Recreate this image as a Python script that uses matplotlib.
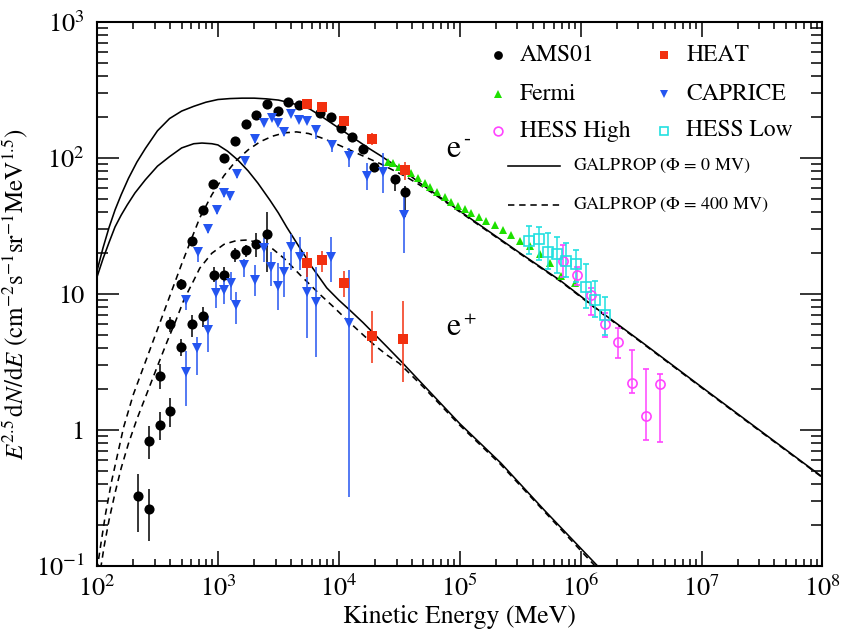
import numpy as np
import matplotlib
matplotlib.use("Agg")
import matplotlib.pyplot as plt

plt.rcParams["font.family"] = ["STIXGeneral", "DejaVu Serif"]
plt.rcParams["mathtext.fontset"] = "stix"

# ---------------- GALPROP model curves (log10 E [MeV], log10 E^2.5 dN/dE) ----------------
elec_phi0_logE = [2.00, 2.05, 2.10, 2.15, 2.20, 2.26, 2.33, 2.40, 2.50, 2.60, 2.70, 2.80, 2.90,
                  3.00, 3.10, 3.20, 3.30, 3.40, 3.50, 3.60, 3.70, 3.76, 3.85, 3.95, 4.05, 4.15,
                  4.25, 4.34, 4.45, 4.56, 4.67, 4.80, 5.00, 5.50, 5.83, 6.18, 6.50, 7.00, 7.50, 8.00]
elec_phi0_logF = [1.17, 1.34, 1.49, 1.62, 1.73, 1.85, 1.97, 2.07, 2.20, 2.29, 2.345, 2.38, 2.41,
                  2.43, 2.437, 2.44, 2.44, 2.435, 2.426, 2.405, 2.38, 2.36, 2.31, 2.25, 2.19, 2.13,
                  2.07, 2.02, 1.955, 1.89, 1.816, 1.735, 1.61, 1.30, 1.10, 0.86, 0.65, 0.316, -0.015, -0.346]

elec_phi400_logE = [2.00, 2.03, 2.07, 2.12, 2.17, 2.22, 2.30, 2.40, 2.50, 2.60, 2.70, 2.77, 2.85,
                    2.95, 3.05, 3.15, 3.25, 3.35, 3.45, 3.55, 3.65, 3.75, 3.85, 3.95, 4.05, 4.15,
                    4.25, 4.35, 4.45, 4.55, 4.65, 4.80, 5.00, 5.50, 5.83, 6.18, 6.50, 7.00, 7.50, 8.00]
elec_phi400_logF = [-1.03, -0.85, -0.62, -0.38, -0.18, 0.02, 0.26, 0.50, 0.74, 0.98, 1.22, 1.38, 1.56,
                    1.73, 1.87, 1.98, 2.06, 2.12, 2.16, 2.185, 2.192, 2.18, 2.15, 2.115, 2.075, 2.035,
                    1.995, 1.955, 1.91, 1.865, 1.812, 1.728, 1.604, 1.295, 1.095, 0.855, 0.645, 0.311, -0.02, -0.35]

posi_phi0_logE = [2.00, 2.05, 2.10, 2.149, 2.20, 2.25, 2.314, 2.40, 2.50, 2.60, 2.70, 2.80, 2.868,
                  2.95, 3.00, 3.08, 3.165, 3.25, 3.33, 3.43, 3.50, 3.57, 3.636, 3.70, 3.777, 3.90,
                  4.00, 4.09, 4.20, 4.30, 4.40, 4.504, 4.70, 5.00, 5.34, 5.70, 6.14, 6.20]
posi_phi0_logF = [1.125, 1.26, 1.38, 1.493, 1.58, 1.655, 1.743, 1.84, 1.94, 2.01, 2.074, 2.105, 2.11,
                  2.105, 2.096, 2.05, 1.985, 1.905, 1.816, 1.69, 1.596, 1.49, 1.397, 1.307, 1.199, 1.045,
                  0.955, 0.882, 0.79, 0.70, 0.61, 0.515, 0.33, 0.047, -0.243, -0.59, -1.0, -1.06]

posi_phi400_logE = [2.03, 2.06, 2.10, 2.15, 2.20, 2.26, 2.33, 2.40, 2.50, 2.58, 2.65, 2.72, 2.80,
                    2.85, 2.95, 3.05, 3.15, 3.24, 3.35, 3.455, 3.55, 3.68, 3.84, 3.95, 4.09, 4.20,
                    4.30, 4.40, 4.50, 4.70, 5.00, 5.34, 5.70, 6.13, 6.20]
posi_phi400_logF = [-1.02, -0.85, -0.66, -0.46, -0.28, -0.10, 0.08, 0.24, 0.47, 0.65, 0.80, 0.96, 1.10,
                    1.19, 1.30, 1.365, 1.392, 1.397, 1.375, 1.33, 1.26, 1.14, 1.00, 0.91, 0.79, 0.70,
                    0.62, 0.55, 0.49, 0.315, 0.035, -0.255, -0.60, -1.01, -1.07]

# ---------------- measurements ----------------
# AMS01 electrons
ams_e_E = [607, 746, 914, 1127, 1380, 1694, 2075, 2541, 3112, 3811, 4667, 6966, 8590, 10520,
           12880, 15780, 19360, 29040, 35560]
ams_e_F = [24.5, 41.5, 64.7, 100, 134, 179, 208, 251, 222, 258, 247, 213, 199, 167, 142, 117,
           85.5, 70.5, 56.2]
ams_e_lo = [23.0, 39.5, 61.5, 95, 127, 170, 198, 239, 211, 245, 235, 202, 189, 158, 134, 110,
            79, 57, 37]
ams_e_hi = [26.0, 43.5, 68, 105, 141, 188, 218, 263, 233, 271, 259, 224, 209, 176, 150, 124,
            92, 75, 62]
# AMS01 positrons
ams_p_E = [219, 269, 269, 330, 404, 330, 494, 404, 494, 614, 752, 920, 1127, 1380, 1694, 2075, 2541]
ams_p_F = [0.327, 0.261, 0.834, 1.09, 1.39, 2.49, 4.07, 5.98, 11.8, 5.98, 6.86, 13.9, 13.9,
           19.6, 21.1, 23.5, 27.6]
ams_p_lo = [0.179, 0.153, 0.608, 0.84, 1.06, 1.99, 3.50, 5.28, 10.7, 4.85, 5.75, 12.3, 12.3,
            17.3, 18.6, 18.6, 14.4]
ams_p_hi = [0.476, 0.366, 1.07, 1.36, 1.71, 3.04, 4.65, 6.81, 13.0, 7.0, 8.07, 15.7, 15.7,
            21.7, 22.9, 27.9, 40.3]

# HEAT
heat_e_E = [5470, 7194, 10990, 18840, 35080]
heat_e_F = [249, 238, 186, 137, 81.7]
heat_e_lo = [240, 229, 172, 125, 68.9]
heat_e_hi = [258, 247, 204, 152, 94]
heat_p_E = [5470, 7194, 10990, 18970, 34040]
heat_p_F = [17.0, 17.8, 12.0, 4.93, 4.65]
heat_p_lo = [13.4, 14.6, 9.47, 3.09, 2.24]
heat_p_hi = [20.5, 20.8, 14.8, 7.50, 8.93]

# CAPRICE
cap_e_E = [545, 681, 832, 975, 1127, 1256, 1429, 1671, 2023, 2399, 2780, 3112, 3532, 4009,
           4699, 5408, 6531, 8710, 12100, 17140, 23280, 34440]
cap_e_F = [9.04, 20.4, 30.1, 41.5, 55, 52.8, 75.9, 95.5, 137, 180, 198, 182, 155, 210, 190,
           188, 161, 125, 104, 73.8, 79.3, 38.1]
cap_e_lo = [7.62, 17.3, 28.0, 38.8, 51.5, 49.5, 71.5, 90, 130, 171, 188, 172, 146, 199, 180,
            178, 137, 111, 85.5, 58.2, 55.6, 19.9]
cap_e_hi = [9.84, 21.6, 32.2, 44.2, 58.5, 56.1, 80.3, 101, 144, 189, 208, 192, 164, 221, 200,
            198, 170, 133, 118, 92.3, 109, 55.0]
cap_p_E = [545, 675, 832, 962, 1122, 1274, 1400, 1648, 2009, 2399, 2723, 3148, 3508, 4009,
           4764, 5470, 6531, 8590, 12100]
cap_p_F = [2.69, 3.99, 5.43, 10.1, 10.7, 12.0, 8.3, 16.3, 12.7, 21.7, 15.7, 11.5, 14.4, 22.3,
           18.8, 10.4, 8.78, 18.8, 6.1]
cap_p_lo = [1.50, 2.54, 3.77, 7.85, 8.43, 9.04, 6.01, 13.4, 9.66, 17.3, 11.5, 7.62, 9.55, 15.0,
            15.0, 4.72, 3.46, 12.3, 0.32]
cap_p_hi = [3.83, 4.85, 6.89, 12.7, 14.8, 14.6, 10.4, 18.0, 16.3, 25.6, 20.5, 16.8, 20.5, 27.6,
            26.4, 15.7, 15.7, 26.1, 15.0]

# Fermi
fermi_E = [25590, 28120, 31550, 35080, 39810, 45190, 51400, 57150, 64860, 75160, 85310, 96830,
           109900, 125000, 144200, 166000, 194500, 228000, 267300, 316200, 379300, 458100,
           554600, 691800, 891300]
fermi_F = [94.0, 91.4, 86.3, 81.7, 77.1, 70.8, 65.2, 61.5, 56.5, 52.0, 47.8, 44.4, 41.9, 39.2,
           36.6, 34.6, 32.1, 29.6, 27.2, 24.7, 22.5, 19.7, 17.0, 13.6, 12.0]

# HESS
hess_low_E = [374100, 449800, 537000, 641200, 751600, 920400, 1099000, 1321000, 1585000]
hess_low_F = [24.7, 25.4, 20.5, 19.7, 17.6, 16.5, 11.2, 9.04, 7.01]
hess_low_lo = [19.7, 17.8, 15.2, 14.2, 13.4, 12.3, 7.85, 6.81, 5.0]
hess_low_hi = [31.6, 31.3, 28.2, 26.1, 23.8, 21.1, 16.6, 12.5, 9.47]
hess_high_E = [714500, 933300, 1211000, 1585000, 2046000, 2673000, 3483000, 4519000]
hess_high_F = [17.6, 13.8, 9.84, 5.98, 4.46, 2.23, 1.27, 2.17]
hess_high_lo = [13.4, 11.6, 7.0, 4.80, 3.37, 1.86, 0.843, 0.813]
hess_high_hi = [22.9, 15.9, 11.0, 7.21, 5.6, 3.87, 2.79, 2.58]

# ---------------- styling ----------------
C_RED = "#f2300f"
C_BLUE = "#2455f0"
C_GREEN = "#1ee000"
C_MAG = "#ff44ff"
C_CYAN = "#22e0e0"

fig = plt.figure(figsize=(8.43, 6.35), dpi=100)
ax = fig.add_axes([97 / 843, 1 - 566 / 635, 725.5 / 843, 544 / 635])
ax.set_xscale("log")
ax.set_yscale("log")
ax.set_xlim(1e2, 1e8)
ax.set_ylim(1e-1, 1e3)

lw = 1.15
dash = (0, (4, 3))
ax.plot(10 ** np.array(elec_phi0_logE), 10 ** np.array(elec_phi0_logF), color="black", lw=lw)
ax.plot(10 ** np.array(posi_phi0_logE), 10 ** np.array(posi_phi0_logF), color="black", lw=lw)
ax.plot(10 ** np.array(elec_phi400_logE), 10 ** np.array(elec_phi400_logF), color="black", lw=lw, ls=dash)
ax.plot(10 ** np.array(posi_phi400_logE), 10 ** np.array(posi_phi400_logF), color="black", lw=lw, ls=dash)


def errpts(E, F, lo, hi, color, marker, ms, mfc=None, mew=0.0):
    F = np.asarray(F, float)
    yerr = [F - np.asarray(lo, float), np.asarray(hi, float) - F]
    ax.errorbar(E, F, yerr=yerr, fmt=marker, color=color, ms=ms,
                mfc=color if mfc is None else mfc, mec=color, mew=mew,
                elinewidth=1.1, capsize=2.4, capthick=1.1, zorder=3)


errpts(ams_e_E, ams_e_F, ams_e_lo, ams_e_hi, "black", "o", 7.3)
errpts(ams_p_E, ams_p_F, ams_p_lo, ams_p_hi, "black", "o", 7.3)
errpts(cap_e_E, cap_e_F, cap_e_lo, cap_e_hi, C_BLUE, "v", 7.6)
errpts(cap_p_E, cap_p_F, cap_p_lo, cap_p_hi, C_BLUE, "v", 7.6)
errpts(heat_e_E, heat_e_F, heat_e_lo, heat_e_hi, C_RED, "s", 6.8)
errpts(heat_p_E, heat_p_F, heat_p_lo, heat_p_hi, C_RED, "s", 6.8)
ax.plot(fermi_E, fermi_F, "^", color=C_GREEN, ms=6.0, mew=0, zorder=3)
errpts(hess_high_E, hess_high_F, hess_high_lo, hess_high_hi, C_MAG, "o", 6.6, mfc="none", mew=1.2)
errpts(hess_low_E, hess_low_F, hess_low_lo, hess_low_hi, C_CYAN, "s", 6.6, mfc="none", mew=1.2)

# particle labels: "e" with a small raised hyphen / plus sign
for yb, sign, size in [(102, "-", 15), (5.0, "+", 13)]:
    ax.text(7.8e4, yb, "e", fontsize=23, ha="left", va="baseline")
    ax.annotate(sign, xy=(7.8e4, yb), xytext=(11.5, 8.5), textcoords="offset points",
                fontsize=size, ha="left", va="baseline")

# ---------------- legend ----------------
leg_entries = [
    ("AMS01", "o", "black", True, 0, 0),
    ("HEAT", "s", C_RED, True, 1, 0),
    ("Fermi", "^", C_GREEN, True, 0, 1),
    ("CAPRICE", "v", C_BLUE, True, 1, 1),
    ("HESS High", "o", C_MAG, False, 0, 2),
    ("HESS Low", "s", C_CYAN, False, 1, 2),
]
col_marker_x = [0.553, 0.7815]
col_text_x = [0.583, 0.812]
row_y = [0.939, 0.868, 0.800]
for label, mk, col, filled, c, r in leg_entries:
    ax.plot([col_marker_x[c]], [row_y[r]], mk, transform=ax.transAxes, color=col,
            ms=6.3, mfc=col if filled else "none", mec=col, mew=0 if filled else 1.2,
            clip_on=False)
    ax.text(col_text_x[c], row_y[r], label, transform=ax.transAxes, fontsize=17,
            ha="left", va="center")

ax.plot([0.566, 0.638], [0.736, 0.736], transform=ax.transAxes, color="black", lw=lw)
ax.text(0.656, 0.736, r"GALPROP ($\Phi$ = 0 MV)", transform=ax.transAxes, fontsize=13,
        ha="left", va="center")
ax.plot([0.566, 0.638], [0.664, 0.664], transform=ax.transAxes, color="black", lw=lw, ls=dash)
ax.text(0.656, 0.664, r"GALPROP ($\Phi$ = 400 MV)", transform=ax.transAxes, fontsize=13,
        ha="left", va="center")

# ---------------- axes ----------------
xt = [1e2, 1e3, 1e4, 1e5, 1e6, 1e7, 1e8]
xtl = [r"$10^{%d}$" % k for k in range(2, 9)]
ax.set_xticks(xt, xtl)
yt = [1e-1, 1, 10, 1e2, 1e3]
ytl = [r"$10^{-1}$", "1", "10", r"$10^{2}$", r"$10^{3}$"]
ax.set_yticks(yt, ytl)
ax.xaxis.set_minor_locator(matplotlib.ticker.LogLocator(base=10, subs=np.arange(2, 10), numticks=20))
ax.yaxis.set_minor_locator(matplotlib.ticker.LogLocator(base=10, subs=np.arange(2, 10), numticks=20))
ax.xaxis.set_minor_formatter(matplotlib.ticker.NullFormatter())
ax.yaxis.set_minor_formatter(matplotlib.ticker.NullFormatter())

ax.tick_params(axis="both", which="both", direction="in", top=True, right=True, labelsize=19)
ax.tick_params(axis="x", which="major", length=11, width=1.1, pad=7)
ax.tick_params(axis="x", which="minor", length=5, width=1.1)
ax.tick_params(axis="y", which="major", length=15.5, width=1.1, pad=9)
ax.tick_params(axis="y", which="minor", length=8, width=1.1)
for s in ax.spines.values():
    s.set_linewidth(1.5)

ax.set_xlabel("Kinetic Energy (MeV)", fontsize=18.5, labelpad=2)
ax.set_ylabel(r"$E^{2.5}\,\mathrm{d}N/\mathrm{d}E$ (cm$^{-2}$s$^{-1}$sr$^{-1}$MeV$^{1.5}$)",
              fontsize=18, labelpad=4)

fig.savefig("out.png", dpi=100)
